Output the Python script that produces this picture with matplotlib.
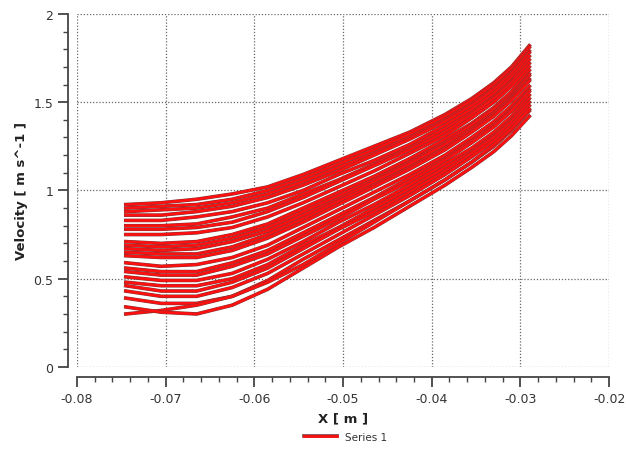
import numpy as np
import matplotlib
matplotlib.use("Agg")
import matplotlib.pyplot as plt
import matplotlib.patheffects as pe
from matplotlib.ticker import MultipleLocator

# x positions (m) along each track
x_pos = [-0.0745, -0.0705, -0.0665, -0.0625, -0.0585, -0.0545, -0.0505,
         -0.0465, -0.0425, -0.0385, -0.0355, -0.033, -0.031, -0.029]

# velocity (m/s) for each track
v01 = [0.92, 0.93, 0.95, 0.98, 1.02, 1.09, 1.17, 1.25, 1.33, 1.43, 1.52, 1.61, 1.70, 1.82]
v02 = [0.90, 0.91, 0.92, 0.95, 1.00, 1.07, 1.15, 1.23, 1.32, 1.42, 1.51, 1.60, 1.69, 1.81]
v03 = [0.88, 0.89, 0.90, 0.93, 0.98, 1.05, 1.13, 1.21, 1.30, 1.40, 1.49, 1.58, 1.67, 1.79]
v04 = [0.86, 0.86, 0.88, 0.91, 0.96, 1.03, 1.11, 1.20, 1.29, 1.39, 1.48, 1.57, 1.66, 1.78]
v05 = [0.83, 0.83, 0.85, 0.88, 0.93, 1.00, 1.09, 1.17, 1.26, 1.37, 1.46, 1.55, 1.64, 1.76]
v06 = [0.80, 0.80, 0.81, 0.85, 0.90, 0.98, 1.06, 1.15, 1.24, 1.35, 1.44, 1.53, 1.62, 1.74]
v07 = [0.78, 0.78, 0.79, 0.82, 0.88, 0.96, 1.05, 1.14, 1.23, 1.33, 1.43, 1.52, 1.61, 1.72]
v08 = [0.75, 0.75, 0.76, 0.79, 0.85, 0.93, 1.02, 1.11, 1.21, 1.31, 1.41, 1.50, 1.59, 1.70]
v09 = [0.71, 0.70, 0.71, 0.75, 0.81, 0.90, 0.99, 1.08, 1.18, 1.29, 1.38, 1.47, 1.56, 1.68]
v10 = [0.69, 0.68, 0.69, 0.73, 0.79, 0.88, 0.97, 1.06, 1.16, 1.27, 1.37, 1.46, 1.54, 1.66]
v11 = [0.67, 0.66, 0.67, 0.71, 0.77, 0.86, 0.95, 1.05, 1.15, 1.26, 1.35, 1.44, 1.53, 1.65]
v12 = [0.65, 0.64, 0.64, 0.68, 0.75, 0.84, 0.94, 1.03, 1.13, 1.24, 1.34, 1.43, 1.52, 1.63]
v13 = [0.63, 0.62, 0.62, 0.66, 0.73, 0.82, 0.92, 1.02, 1.12, 1.23, 1.33, 1.42, 1.51, 1.62]
v14 = [0.59, 0.57, 0.58, 0.62, 0.69, 0.79, 0.89, 0.99, 1.09, 1.20, 1.30, 1.39, 1.48, 1.59]
v15 = [0.56, 0.54, 0.54, 0.59, 0.66, 0.76, 0.86, 0.96, 1.07, 1.18, 1.28, 1.37, 1.46, 1.57]
v16 = [0.54, 0.52, 0.52, 0.57, 0.64, 0.74, 0.84, 0.95, 1.05, 1.17, 1.27, 1.36, 1.45, 1.56]
v17 = [0.51, 0.49, 0.49, 0.53, 0.61, 0.71, 0.82, 0.92, 1.03, 1.15, 1.24, 1.33, 1.42, 1.54]
v18 = [0.48, 0.46, 0.46, 0.50, 0.58, 0.69, 0.79, 0.90, 1.01, 1.13, 1.22, 1.31, 1.40, 1.52]
v19 = [0.46, 0.43, 0.43, 0.48, 0.56, 0.67, 0.78, 0.88, 0.99, 1.11, 1.21, 1.30, 1.39, 1.50]
v20 = [0.43, 0.40, 0.40, 0.45, 0.53, 0.64, 0.75, 0.86, 0.97, 1.09, 1.19, 1.28, 1.37, 1.48]
v21 = [0.39, 0.36, 0.36, 0.40, 0.49, 0.61, 0.72, 0.83, 0.94, 1.06, 1.16, 1.25, 1.34, 1.45]
v22 = [0.30, 0.32, 0.35, 0.40, 0.48, 0.58, 0.70, 0.82, 0.94, 1.06, 1.16, 1.26, 1.35, 1.46]
v23 = [0.34, 0.31, 0.30, 0.35, 0.44, 0.56, 0.68, 0.79, 0.91, 1.03, 1.13, 1.22, 1.31, 1.42]

tracks = [v01, v02, v03, v04, v05, v06, v07, v08, v09, v10, v11, v12,
          v13, v14, v15, v16, v17, v18, v19, v20, v21, v22, v23]

x_ticks = [-0.08, -0.07, -0.06, -0.05, -0.04, -0.03, -0.02]
y_ticks = [0, 0.5, 1, 1.5, 2]

fig = plt.figure(figsize=(6.26, 4.52), dpi=100)
ax = fig.add_axes([0.123, 0.186, 0.850, 0.781])

outline = [pe.Stroke(linewidth=2.6, foreground="#7d3535"), pe.Normal()]
for i, v in enumerate(tracks):
    ax.plot(x_pos, v, color="#ff1010", lw=1.9, path_effects=outline,
            solid_joinstyle="round", label="Series 1" if i == 0 else None)

ax.set_xlim(-0.08, -0.02)
ax.set_ylim(0, 2)
ax.set_xticks(x_ticks)
ax.set_xticklabels([f"{t:g}" for t in x_ticks])
ax.set_yticks(y_ticks)
ax.set_yticklabels([f"{t:g}" for t in y_ticks])
ax.xaxis.set_minor_locator(MultipleLocator(0.002))
ax.yaxis.set_minor_locator(MultipleLocator(0.1))

ax.grid(True, which="major", linestyle=(0, (1, 1.5)), color="#666666", lw=0.9)
for s in ["top", "right"]:
    ax.spines[s].set_visible(False)
ax.spines["left"].set_position(("outward", 6.5))
ax.spines["bottom"].set_position(("outward", 7.5))
ax.spines["left"].set_bounds(0, 2)
ax.spines["bottom"].set_bounds(-0.08, -0.02)
for s in ["left", "bottom"]:
    ax.spines[s].set_color("#444444")
    ax.spines[s].set_linewidth(1.3)

ax.tick_params(which="major", length=7, width=1.3, color="#444444",
               labelsize=9, labelcolor="#333333")
ax.tick_params(which="minor", length=3.5, width=1.0, color="#444444")

ax.set_xlabel("X [ m ]", fontsize=9.5, fontweight="bold", color="#222222", labelpad=5)
ax.set_ylabel("Velocity [ m s^-1 ]", fontsize=9.5, fontweight="bold", color="#222222", labelpad=4)

leg = fig.legend(loc="lower center", bbox_to_anchor=(0.552, 0.0), frameon=False,
                 fontsize=7.5, handlelength=3.2, handletextpad=0.8)
for t in leg.get_texts():
    t.set_color("#333333")

fig.savefig("out.png", dpi=100)
